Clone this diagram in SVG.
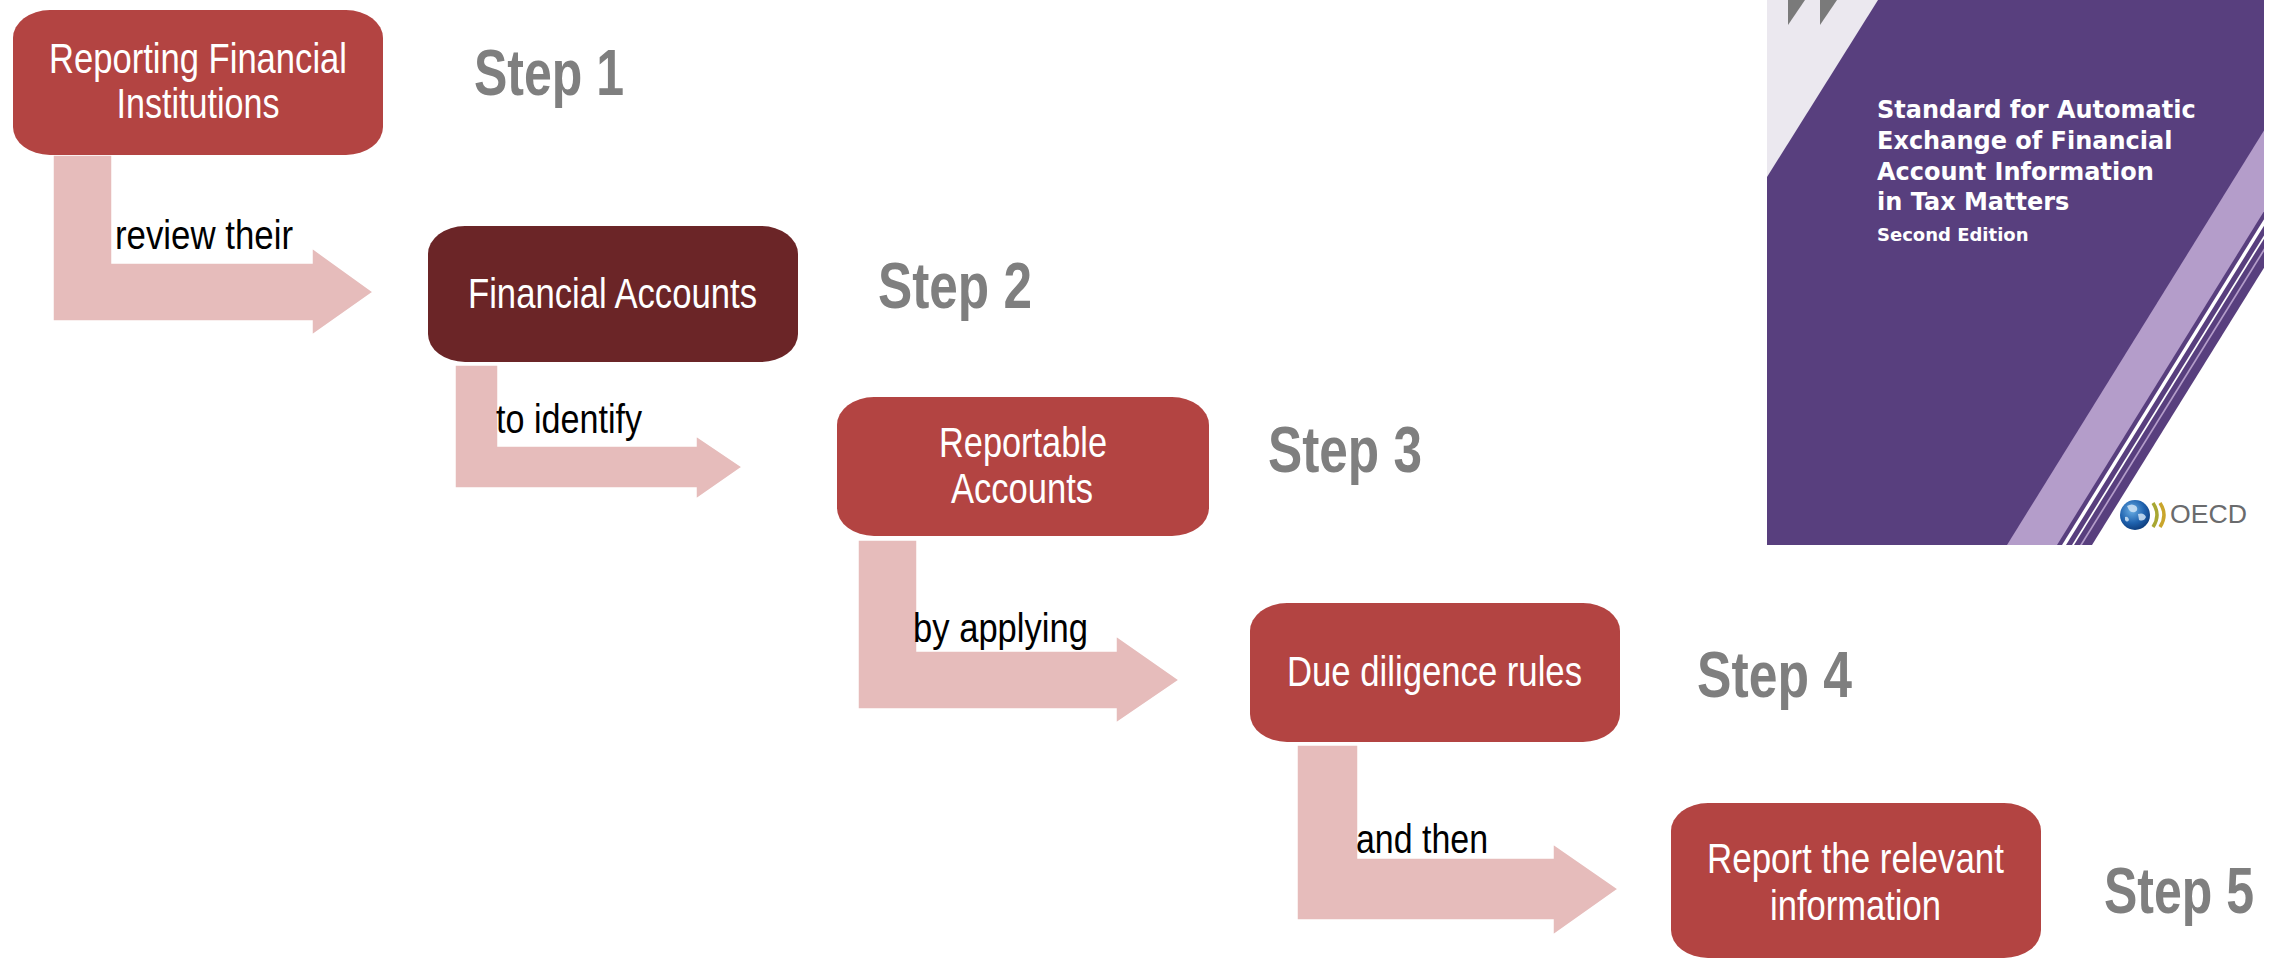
<svg xmlns="http://www.w3.org/2000/svg" width="2274" height="960" viewBox="0 0 2274 960">
<defs>
<style>
.box{fill:#b34442}
.dark{fill:#6b2527}
.btxt{font-family:"Liberation Sans",Arial,sans-serif;font-size:42px;fill:#ffffff;text-anchor:middle}
.step{font-family:"Liberation Sans",Arial,sans-serif;font-size:64px;font-weight:bold;fill:#7f7f7f}
.arrow{fill:#e6bcbb;stroke:#ffffff;stroke-width:1.5}
.lbl{font-family:"Liberation Sans",Arial,sans-serif;font-size:40px;fill:#000000}
.ctitle{font-family:"DejaVu Sans","Liberation Sans",sans-serif;font-weight:bold;font-size:24px;fill:#ffffff}
</style>
<clipPath id="coverClip"><rect x="1767" y="0" width="497" height="545"/></clipPath>
<radialGradient id="globe" cx="0.4" cy="0.35" r="0.7">
<stop offset="0" stop-color="#6aaee4"/>
<stop offset="0.6" stop-color="#1f62ae"/>
<stop offset="1" stop-color="#0c3a78"/>
</radialGradient>
</defs>
<rect width="2274" height="960" fill="#ffffff"/>

<g id="connectors">
<polygon class="arrow" points="53,155 112,155 112,263 312,263 312,248 373,292 312,335 312,321 53,321"/>
<polygon class="arrow" points="455,365 498,365 498,446 696,446 696,436 742,467 696,499 696,488 455,488"/>
<polygon class="arrow" points="858,540 917,540 917,651 1116,651 1116,636 1179,680 1116,723 1116,709 858,709"/>
<polygon class="arrow" points="1297,745 1358,745 1358,858 1553,858 1553,844 1618,889 1553,935 1553,920 1297,920"/>
<text class="lbl" x="115" y="249" textLength="178" lengthAdjust="spacingAndGlyphs">review their</text>
<text class="lbl" x="496" y="433" textLength="146" lengthAdjust="spacingAndGlyphs">to identify</text>
<text class="lbl" x="913" y="642" textLength="175" lengthAdjust="spacingAndGlyphs">by applying</text>
<text class="lbl" x="1356" y="853" textLength="132" lengthAdjust="spacingAndGlyphs">and then</text>
</g>

<g id="node1">
<rect class="box" x="13" y="10" width="370" height="145" rx="37" ry="28"/>
<text class="btxt" x="198" y="73" textLength="298" lengthAdjust="spacingAndGlyphs">Reporting Financial</text>
<text class="btxt" x="198" y="118" textLength="163" lengthAdjust="spacingAndGlyphs">Institutions</text>
</g>
<g id="node2">
<rect class="dark" x="428" y="226" width="370" height="136" rx="37" ry="28"/>
<text class="btxt" x="612.5" y="308" textLength="289" lengthAdjust="spacingAndGlyphs">Financial Accounts</text>
</g>
<g id="node3">
<rect class="box" x="837" y="397" width="372" height="139" rx="37" ry="28"/>
<text class="btxt" x="1023" y="457" textLength="168" lengthAdjust="spacingAndGlyphs">Reportable</text>
<text class="btxt" x="1022" y="503" textLength="142" lengthAdjust="spacingAndGlyphs">Accounts</text>
</g>
<g id="node4">
<rect class="box" x="1250" y="603" width="370" height="139" rx="37" ry="28"/>
<text class="btxt" x="1434.5" y="686" textLength="295" lengthAdjust="spacingAndGlyphs">Due diligence rules</text>
</g>
<g id="node5">
<rect class="box" x="1671" y="803" width="370" height="155" rx="37" ry="28"/>
<text class="btxt" x="1855.5" y="873" textLength="297" lengthAdjust="spacingAndGlyphs">Report the relevant</text>
<text class="btxt" x="1855.5" y="920" textLength="171" lengthAdjust="spacingAndGlyphs">information</text>
</g>

<g id="steps">
<text class="step" x="474" y="95" textLength="150" lengthAdjust="spacingAndGlyphs">Step 1</text>
<text class="step" x="878" y="308" textLength="154" lengthAdjust="spacingAndGlyphs">Step 2</text>
<text class="step" x="1268" y="472" textLength="154" lengthAdjust="spacingAndGlyphs">Step 3</text>
<text class="step" x="1697" y="697" textLength="155" lengthAdjust="spacingAndGlyphs">Step 4</text>
<text class="step" x="2104" y="913" textLength="150" lengthAdjust="spacingAndGlyphs">Step 5</text>
</g>

<g id="cover">
<g clip-path="url(#coverClip)">
<rect x="1767" y="0" width="497" height="545" fill="#583f7e"/>
<polygon points="1767,0 1878,0 1767,177" fill="#ebe8ef"/>
<polygon points="1788,0 1805,0 1788,25" fill="#7a7a7a"/>
<polygon points="1820,0 1837,0 1820,25" fill="#7a7a7a"/>
<polygon points="2007,545 2057,545 2395,0 2345,0" fill="#b49dca"/>
<polygon points="2062,545 2066,545 2404,0 2400,0" fill="#ffffff"/>
<polygon points="2072,545 2074,545 2412,0 2410,0" fill="#ffffff"/>
<polygon points="2080,545 2082,545 2420,0 2418,0" fill="#b49dca"/>
<polygon points="2092,545 2430,0 2700,0 2700,600 2092,600" fill="#ffffff"/>
</g>
<text class="ctitle" x="1877" y="118">Standard for Automatic</text>
<text class="ctitle" x="1877" y="149">Exchange of Financial</text>
<text class="ctitle" x="1877" y="180">Account Information</text>
<text class="ctitle" x="1877" y="210">in Tax Matters</text>
<text class="ctitle" x="1877" y="241" style="font-size:18px">Second Edition</text>
<g id="oecd-logo">
<circle cx="2135" cy="515" r="15" fill="url(#globe)"/>
<path d="M2127,506 q5,-3 9,0 q3,4 -1,6 q-4,1 -6,-2 z M2138,514 q6,-2 8,3 q-2,5 -7,3 z M2125,517 q3,-1 4,3 q-2,3 -4,0 z" fill="#cfe3f4" opacity="0.85"/>
<path d="M2153,503 Q2161,515 2153,527" fill="none" stroke="#a8a732" stroke-width="3.5"/>
<path d="M2160,503 Q2168,515 2160,527" fill="none" stroke="#c9a52c" stroke-width="3.5"/>
<text x="2170" y="523" font-family="Liberation Sans, Arial, sans-serif" font-size="25" fill="#6a6b6d" textLength="77" lengthAdjust="spacingAndGlyphs">OECD</text>
</g>
</g>
</svg>
